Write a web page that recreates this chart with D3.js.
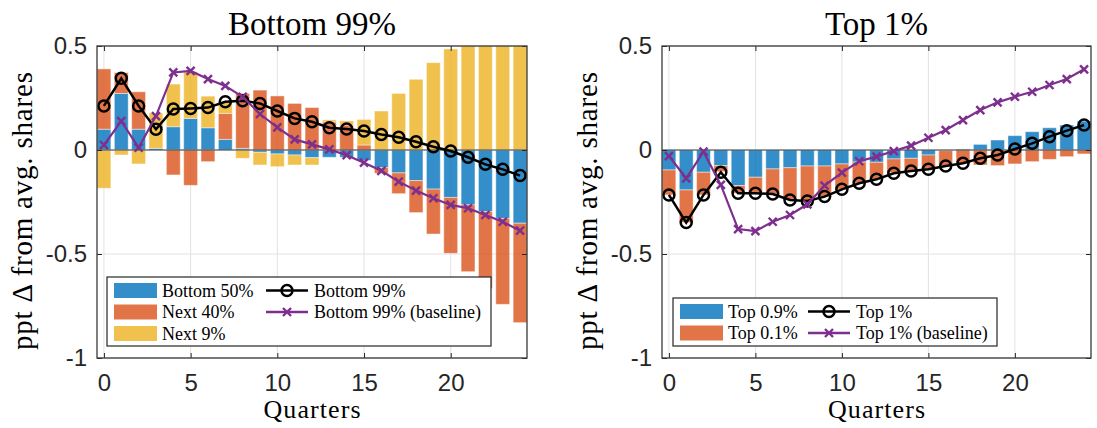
<!DOCTYPE html>
<html>
<head>
<meta charset="utf-8">
<script src="https://cdn.jsdelivr.net/npm/d3@7"></script>
<style>
  body { margin: 0; background: #fff; }
  svg { display: block; }
</style>
</head>
<body>
<div id="chart"></div>
<script>
// quarters after the shock
const quarters = [0,1,2,3,4,5,6,7,8,9,10,11,12,13,14,15,16,17,18,19,20,21,22,23,24];
const xTicks = [0, 5, 10, 15, 20];
const yTicks = [-1, -0.5, 0, 0.5];
const yTickLabels = ["-1", "-0.5", "0", "0.5"];

// left panel: bottom 99%
const bottom50 = [0.10, 0.272, 0.10, 0.008, 0.112, 0.152, 0.107, 0.051, 0.008, -0.011, -0.019, -0.024, -0.037, -0.035, -0.035, -0.05, -0.085, -0.11, -0.147, -0.188, -0.228, -0.264, -0.296, -0.329, -0.352];
const next40 = [0.29, 0.10, 0.18, 0, -0.12, -0.17, -0.056, 0.125, 0.264, 0.288, 0.26, 0.224, 0.204, 0.135, 0.12, 0.024, -0.027, -0.10, -0.154, -0.216, -0.269, -0.321, -0.369, -0.413, -0.478];
const next9 = [-0.184, -0.024, -0.067, 0.17, 0.205, 0.225, 0.152, 0.056, -0.04, -0.061, -0.061, -0.048, -0.035, 0.01, 0.02, 0.123, 0.1875, 0.272, 0.34, 0.42, 0.486, 0.55, 0.596, 0.649, 0.707];
const bottom99 = [0.212, 0.345, 0.212, 0.10, 0.197, 0.20, 0.204, 0.232, 0.237, 0.224, 0.1875, 0.152, 0.136, 0.107, 0.101, 0.091, 0.075, 0.061, 0.04, 0.016, -0.005, -0.035, -0.069, -0.093, -0.123];
const bottom99Base = [0.024, 0.139, 0.011, 0.163, 0.373, 0.38, 0.341, 0.308, 0.256, 0.173, 0.109, 0.051, 0.027, 0.003, -0.025, -0.061, -0.1, -0.152, -0.195, -0.232, -0.264, -0.28, -0.3125, -0.345, -0.388];

// right panel: top 1%
const top09 = [-0.096, -0.192, -0.107, -0.075, -0.171, -0.131, -0.091, -0.085, -0.077, -0.077, -0.067, -0.058, -0.059, -0.043, -0.04, -0.024, -0.003, 0.005, 0.027, 0.048, 0.069, 0.088, 0.107, 0.12, 0.139];
const top01 = [-0.12, -0.157, -0.109, -0.029, -0.037, -0.08, -0.121, -0.155, -0.171, -0.147, -0.122, -0.102, -0.08, -0.066, -0.058, -0.068, -0.072, -0.066, -0.072, -0.075, -0.067, -0.056, -0.045, -0.032, -0.019];
const top1 = [-0.216, -0.349, -0.216, -0.107, -0.208, -0.208, -0.212, -0.24, -0.245, -0.224, -0.189, -0.16, -0.141, -0.112, -0.101, -0.093, -0.077, -0.064, -0.04, -0.024, 0.005, 0.032, 0.064, 0.093, 0.12];
const top1Base = [-0.029, -0.136, -0.008, -0.168, -0.38, -0.39, -0.345, -0.3125, -0.261, -0.171, -0.109, -0.054, -0.032, -0.005, 0.021, 0.059, 0.096, 0.144, 0.192, 0.229, 0.256, 0.28, 0.3125, 0.341, 0.388];

const blue = "#0072BD", orange = "#D95319", yellow = "#EDB120", purple = "#7E2F8E";
const serif = "'Liberation Serif', 'Times New Roman', serif";
const sans = "'Liberation Sans', Arial, sans-serif";
const axisColor = "#262626";

const W = 1097, H = 428;
const yTop = 46, yBot = 358;

const svg = d3.select("#chart").append("svg")
    .attr("width", W)
    .attr("height", H);

const panels = [
  {
    title: "Bottom 99%", x0: 97, x1: 527,
    bars: [
      { name: "Bottom 50%", values: bottom50, color: blue },
      { name: "Next 40%", values: next40, color: orange },
      { name: "Next 9%", values: next9, color: yellow }
    ],
    lines: [
      { name: "Bottom 99%", values: bottom99, color: "#000", marker: "o" },
      { name: "Bottom 99% (baseline)", values: bottom99Base, color: purple, marker: "x" }
    ],
    legend: { x: 107, y: 277, w: 384, h: 69, col2: 266, rowH: 21.5 }
  },
  {
    title: "Top 1%", x0: 662, x1: 1091,
    bars: [
      { name: "Top 0.9%", values: top09, color: blue },
      { name: "Top 0.1%", values: top01, color: orange }
    ],
    lines: [
      { name: "Top 1%", values: top1, color: "#000", marker: "o" },
      { name: "Top 1% (baseline)", values: top1Base, color: purple, marker: "x" }
    ],
    legend: { x: 673, y: 298, w: 324, h: 48, col2: 808, rowH: 21.5 }
  }
];

function drawMarker(sel, type, color) {
  if (type === "o") {
    sel.append("circle")
        .attr("r", 5.5)
        .attr("fill", "none")
        .attr("stroke", color)
        .attr("stroke-width", 2.5);
  } else {
    sel.append("path")
        .attr("d", "M-4,-4L4,4M-4,4L4,-4")
        .attr("fill", "none")
        .attr("stroke", color)
        .attr("stroke-width", 2.4);
  }
}

panels.forEach((p, pi) => {
  const x = d3.scaleLinear().domain([-0.4, 24.4]).range([p.x0, p.x1]);
  const y = d3.scaleLinear().domain([-1, 0.5]).range([yBot, yTop]);
  const g = svg.append("g");

  // grid
  g.append("g").selectAll("line").data(xTicks).join("line")
      .attr("x1", d => x(d)).attr("x2", d => x(d))
      .attr("y1", yTop).attr("y2", yBot)
      .attr("stroke", "#e2e2e2");
  g.append("g").selectAll("line").data(yTicks).join("line")
      .attr("x1", p.x0).attr("x2", p.x1)
      .attr("y1", d => y(d)).attr("y2", d => y(d))
      .attr("stroke", "#e2e2e2");

  const clipId = "clip" + pi;
  svg.append("clipPath").attr("id", clipId)
    .append("rect")
      .attr("x", p.x0).attr("y", yTop)
      .attr("width", p.x1 - p.x0).attr("height", yBot - yTop);

  const plot = g.append("g").attr("clip-path", `url(#${clipId})`);

  // stacked bars, positives up and negatives down
  const bw = x(0.8) - x(0);
  const rects = [];
  quarters.forEach((q, i) => {
    let pos = 0, neg = 0;
    p.bars.forEach(s => {
      const v = s.values[i];
      let a, b;
      if (v >= 0) { a = pos; b = pos + v; pos = b; }
      else { a = neg; b = neg + v; neg = b; }
      rects.push({ q, a, b, color: s.color });
    });
  });
  plot.append("g").selectAll("rect").data(rects).join("rect")
      .attr("x", d => x(d.q) - bw / 2)
      .attr("width", bw)
      .attr("y", d => y(Math.max(d.a, d.b)))
      .attr("height", d => Math.abs(y(d.a) - y(d.b)))
      .attr("fill", d => d.color)
      .attr("fill-opacity", 0.8)
      .attr("stroke", "#fff")
      .attr("stroke-opacity", 0.45)
      .attr("stroke-width", 1);

  // bar baseline
  plot.append("line")
      .attr("x1", p.x0).attr("x2", p.x1)
      .attr("y1", y(0)).attr("y2", y(0))
      .attr("stroke", "#3c3c3c").attr("stroke-width", 1);

  // lines with markers
  p.lines.forEach(l => {
    plot.append("path")
        .datum(quarters)
        .attr("fill", "none")
        .attr("stroke", l.color)
        .attr("stroke-width", l.marker === "o" ? 2.5 : 2.2)
        .attr("d", d3.line().x(q => x(q)).y((q, i) => y(l.values[i])));
    plot.append("g").selectAll("g").data(quarters).join("g")
        .attr("transform", (q, i) => `translate(${x(q)},${y(l.values[i])})`)
        .each(function () { drawMarker(d3.select(this), l.marker, l.color); });
  });

  // axes, ticks pointing inward on all four sides
  const ax = g.append("g").attr("transform", `translate(0,${yBot})`)
      .call(d3.axisBottom(x).tickValues(xTicks).tickSizeInner(-5).tickSizeOuter(0).tickPadding(16));
  const ay = g.append("g").attr("transform", `translate(${p.x0},0)`)
      .call(d3.axisLeft(y).tickValues(yTicks).tickSizeInner(-5).tickSizeOuter(0).tickPadding(10)
        .tickFormat((d, i) => yTickLabels[i]));
  const at = g.append("g").attr("transform", `translate(0,${yTop})`)
      .call(d3.axisTop(x).tickValues(xTicks).tickSizeInner(-5).tickSizeOuter(0).tickFormat(""));
  const ar = g.append("g").attr("transform", `translate(${p.x1},0)`)
      .call(d3.axisRight(y).tickValues(yTicks).tickSizeInner(-5).tickSizeOuter(0).tickFormat(""));
  [ax, ay, at, ar].forEach(a => {
    a.select(".domain").remove();
    a.selectAll(".tick line").attr("stroke", axisColor);
    a.selectAll("text")
        .attr("font-family", sans)
        .attr("font-size", 24)
        .attr("fill", axisColor);
  });

  // box
  g.append("rect")
      .attr("x", p.x0).attr("y", yTop)
      .attr("width", p.x1 - p.x0).attr("height", yBot - yTop)
      .attr("fill", "none")
      .attr("stroke", "#3a3a3a")
      .attr("stroke-width", 1.3);

  // title and labels
  g.append("text")
      .attr("x", (p.x0 + p.x1) / 2).attr("y", 35)
      .attr("text-anchor", "middle")
      .attr("font-family", serif).attr("font-size", 33)
      .text(p.title);
  g.append("text")
      .attr("x", (p.x0 + p.x1) / 2).attr("y", 418)
      .attr("text-anchor", "middle")
      .attr("font-family", serif).attr("font-size", 26)
      .attr("textLength", 97).attr("lengthAdjust", "spacing")
      .text("Quarters");
  g.append("text")
      .attr("transform", `translate(${p.x0 - 65},211) rotate(-90)`)
      .attr("text-anchor", "middle")
      .attr("font-family", serif).attr("font-size", 29)
      .attr("textLength", 278).attr("lengthAdjust", "spacing")
      .text("ppt \u0394 from avg. shares");

  // legend
  const L = p.legend;
  const lg = g.append("g");
  lg.append("rect")
      .attr("x", L.x).attr("y", L.y)
      .attr("width", L.w).attr("height", L.h)
      .attr("fill", "#fff")
      .attr("stroke", axisColor).attr("stroke-width", 1.2);
  const rowY = i => L.y + 13.5 + i * L.rowH;
  p.bars.forEach((s, i) => {
    lg.append("rect")
        .attr("x", L.x + 7).attr("y", rowY(i) - 7.5)
        .attr("width", 43).attr("height", 15)
        .attr("fill", s.color).attr("fill-opacity", 0.8);
    lg.append("text")
        .attr("x", L.x + 55).attr("y", rowY(i) + 6)
        .attr("font-family", serif).attr("font-size", 18)
        .text(s.name);
  });
  p.lines.forEach((l, i) => {
    lg.append("line")
        .attr("x1", L.col2).attr("x2", L.col2 + 42)
        .attr("y1", rowY(i)).attr("y2", rowY(i))
        .attr("stroke", l.color).attr("stroke-width", 2.5);
    const m = lg.append("g").attr("transform", `translate(${L.col2 + 21},${rowY(i)})`);
    drawMarker(m, l.marker, l.color);
    lg.append("text")
        .attr("x", L.col2 + 48).attr("y", rowY(i) + 6)
        .attr("font-family", serif).attr("font-size", 18)
        .text(l.name);
  });
});
</script>
</body>
</html>
